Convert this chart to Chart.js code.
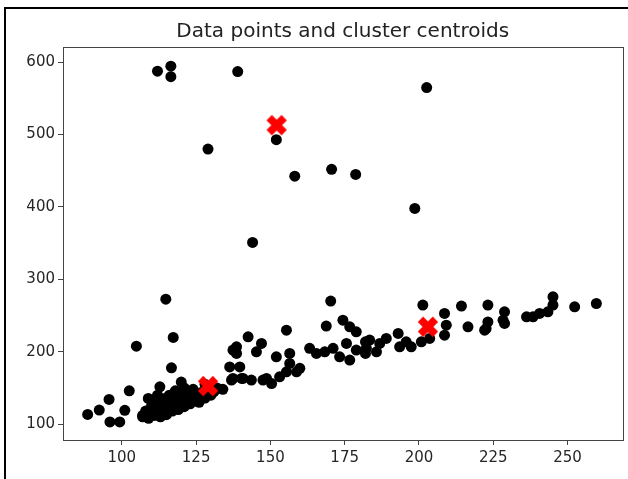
<!DOCTYPE html>
<html>
<head>
<meta charset="utf-8">
<script src="https://cdn.jsdelivr.net/npm/chart.js@4/dist/chart.umd.min.js"></script>
<style>
  body { margin: 0; background: #fff; }
  #wrap { position: relative; width: 628px; height: 479px; overflow: hidden; }
  #frame { position: absolute; left: 4px; top: 7px; width: 700px; height: 600px;
           border-left: 2px solid #000; border-top: 2px solid #000; pointer-events: none; }
</style>
</head>
<body>
<div id="wrap">
  <canvas id="Chart" width="628" height="479"></canvas>
  <div id="frame"></div>
</div>
<script>
// data points
const pointX = [
  112, 116.5, 116.5, 139, 152, 129, 158.2, 170.6, 178.7, 198.6, 202.6, 144, 114.8, 170.3,
  104.9, 117.3, 116.7, 102.5, 88.5, 92.4, 95.7, 96, 99.3, 101, 107, 108.9, 112.8, 120,
  107, 108, 109, 110, 110, 111, 111, 112, 112, 113, 113, 114, 114, 115, 115, 116, 116,
  117, 117, 118, 118, 119, 119, 120, 120, 121, 121, 122, 122, 123, 124, 124, 125, 126,
  126, 127, 128, 129, 130, 131, 132, 128, 134,
  142.5, 155.4, 168.8, 174.4, 138.6, 138.6, 147, 145.3, 136.3, 137.4, 140.8, 143.6,
  152, 156.5, 156.5, 148.7, 150.4, 153.1, 155.4, 158.8, 159.9, 147.5, 163.2, 165.5,
  168.3, 171.1, 173.3, 175.6, 176.7, 178.9, 178.9, 176.7, 182, 182,
  137.4, 136.9, 140.3, 139.7,
  201.3, 214.3, 223.2, 208.6, 209.2, 208.6, 216.5, 222.1, 223.2, 195.7, 197.4, 200.8,
  203.6, 193, 189, 186.8, 183.4, 182.3, 185.7, 193.5, 222.6,
  259.7, 252.4, 245.1, 245.1, 243.4, 240.6, 238.4, 236.2, 228.8, 228.8, 228.3
];
const pointY = [
  587.6, 594.5, 580, 587, 493, 480, 442.5, 452, 445, 398, 565, 351, 272.6, 270,
  207.7, 219.7, 177.8, 146, 113.4, 119.3, 134, 103, 103, 119, 112, 135.5, 151.5, 158,
  110, 118, 108, 125, 115, 112, 130, 120, 140, 110, 126, 118, 135, 122, 113, 128, 140,
  118, 132, 125, 146, 120, 135, 128, 140, 124, 150, 132, 142, 128, 136, 148, 132, 140,
  130, 144, 136, 146, 140, 145, 150, 155, 148,
  220.6, 229.8, 235.4, 243.6, 206.8, 197.6, 211.5, 199.9, 179, 163, 163, 160.8,
  193, 197.6, 183.8, 163, 156, 165.3, 172.2, 172.2, 177, 160.8, 204.6, 197.6,
  199.9, 204.6, 193, 211.5, 188.4, 202.2, 227.5, 234.4, 213.7, 197.6,
  202.2, 160.8, 163, 179,
  264.4, 263, 264.4, 252.9, 236.7, 222.9, 234.4, 229.8, 241.2, 213.7, 206.8, 213.7,
  218.4, 225.3, 218.4, 211.5, 216, 204.6, 199.9, 206.8, 232,
  266.6, 262, 275.8, 264.4, 255.1, 252.9, 248.2, 248.2, 255.1, 239, 243.6
];

// cluster centroids
const centroidX = [129, 152.1, 203];
const centroidY = [152.5, 513, 234.4];

// axis ticks
const xTicks = [100, 125, 150, 175, 200, 225, 250];
const yTicks = [100, 200, 300, 400, 500, 600];

const titleText = 'Data points and cluster centroids';

document.addEventListener('DOMContentLoaded', function() {
    // filled "X" marker like matplotlib's
    const xMark = document.createElement('canvas');
    xMark.width = 24;
    xMark.height = 24;
    const mc = xMark.getContext('2d');
    mc.strokeStyle = '#ff0000';
    mc.lineWidth = 7.5;
    mc.lineCap = 'butt';
    mc.beginPath();
    mc.moveTo(4.5, 4.5); mc.lineTo(19.5, 19.5);
    mc.moveTo(19.5, 4.5); mc.lineTo(4.5, 19.5);
    mc.stroke();

    // draws the full axes box (all four spines)
    const axesBox = {
        id: 'axesBox',
        afterDraw(chart) {
            const a = chart.chartArea;
            const c = chart.ctx;
            c.save();
            c.strokeStyle = '#444';
            c.lineWidth = 1;
            c.strokeRect(Math.round(a.left) + 0.5, Math.round(a.top) + 0.5,
                         Math.round(a.right - a.left), Math.round(a.bottom - a.top));
            c.restore();
        }
    };

    const tickFont = { family: 'DejaVu Sans', size: 15 };

    const ctx = document.getElementById('Chart').getContext('2d');
    const myChart = new Chart(ctx, {
        type: 'scatter',
        data: {
            datasets: [{
                data: centroidX.map((x, i) => ({ x: x, y: centroidY[i] })),
                pointStyle: xMark,
                order: 0
            }, {
                data: pointX.map((x, i) => ({ x: x, y: pointY[i] })),
                backgroundColor: '#000000',
                borderWidth: 0,
                pointRadius: 5.5,
                order: 1
            }]
        },
        options: {
            responsive: false,
            animation: false,
            devicePixelRatio: 1,
            layout: { padding: { left: 0, right: 5, top: 0, bottom: 0 } },
            plugins: {
                legend: { display: false },
                tooltip: { enabled: false },
                title: {
                    display: true,
                    text: titleText,
                    fullSize: false, // centre the title over the plot area
                    color: '#222',
                    font: { family: 'DejaVu Sans', size: 20, weight: 'normal' },
                    padding: { top: 20, bottom: 3 }
                }
            },
            scales: {
                x: {
                    type: 'linear',
                    min: 80.2,
                    max: 268.5,
                    afterBuildTicks: s => { s.ticks = xTicks.map(v => ({ value: v })); },
                    afterFit: s => { s.height = 39; },
                    border: { display: false },
                    grid: { drawOnChartArea: false, drawTicks: true, tickLength: 5, color: '#444' },
                    ticks: { color: '#262626', font: tickFont, padding: 4, maxRotation: 0 }
                },
                y: {
                    type: 'linear',
                    min: 78,
                    max: 621,
                    afterBuildTicks: s => { s.ticks = yTicks.map(v => ({ value: v })); },
                    afterFit: s => { s.width = 63; },
                    border: { display: false },
                    grid: { drawOnChartArea: false, drawTicks: true, tickLength: 5, color: '#444' },
                    ticks: { color: '#262626', font: tickFont, padding: 3 }
                }
            }
        },
        plugins: [axesBox]
    });
});
</script>
</body>
</html>
